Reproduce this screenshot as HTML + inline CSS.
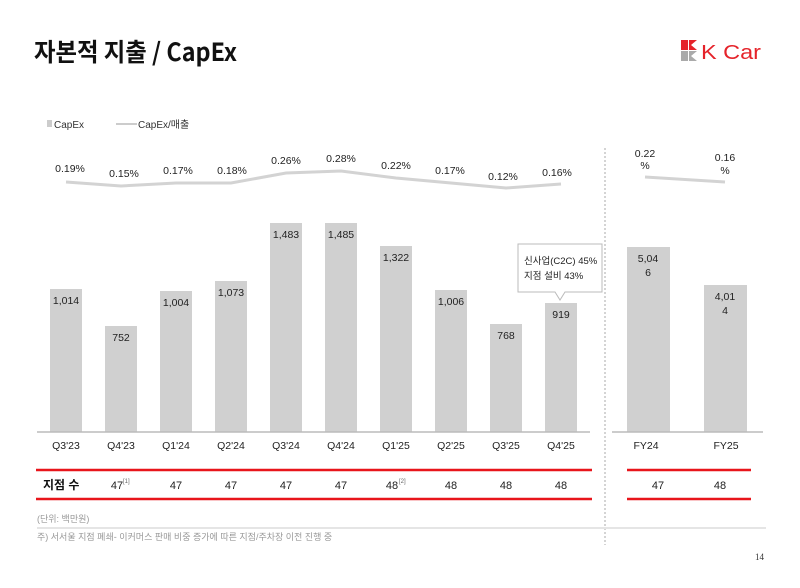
<!DOCTYPE html>
<html><head><meta charset="utf-8"><style>
body{margin:0;background:#fff;}
svg text{font-family:"Liberation Sans","Noto Sans CJK KR",sans-serif;}
</style></head><body>
<svg width="800" height="583" xmlns="http://www.w3.org/2000/svg">
<rect width="800" height="583" fill="#fff"/>
<text x="34" y="61" font-size="25" font-weight="bold" fill="#111" textLength="203" lengthAdjust="spacingAndGlyphs" style="font-family:'Noto Sans CJK KR','Liberation Sans',sans-serif">자본적 지출 / CapEx</text>
<!-- logo -->
<rect x="681" y="40" width="7" height="10" fill="#e5232a"/>
<polygon points="689,40 697,40 691,45 697,50 689,50" fill="#e5232a"/>
<rect x="681" y="51" width="7" height="10" fill="#aaa"/>
<polygon points="689,51 697,51 691,56 697,61 689,61" fill="#aaa"/>
<text x="701" y="59" font-size="20" fill="#e5232a" textLength="60" lengthAdjust="spacingAndGlyphs">K Car</text>
<!-- legend -->
<rect x="47" y="120" width="5" height="7" fill="#ccc"/>
<text x="54" y="128" font-size="10" fill="#333">CapEx</text>
<line x1="116" y1="124" x2="137" y2="124" stroke="#ccc" stroke-width="2"/>
<text x="138" y="128" font-size="10" fill="#333">CapEx/매출</text>
<!-- line -->
<polyline points="66,182 121,186 176,183 231,183 286,173 341,171 396,178 451,183 506,188 561,184" fill="none" stroke="#d3d3d3" stroke-width="3"/>
<polyline points="645,177 725,182" fill="none" stroke="#d3d3d3" stroke-width="3"/>
<g font-size="10.5" fill="#222" text-anchor="middle">
<text x="70" y="172">0.19%</text><text x="124" y="177">0.15%</text><text x="178" y="174">0.17%</text><text x="232" y="174">0.18%</text><text x="286" y="164">0.26%</text><text x="341" y="162">0.28%</text><text x="396" y="169">0.22%</text><text x="450" y="174">0.17%</text><text x="503" y="180">0.12%</text><text x="557" y="176">0.16%</text>
<text x="645" y="157">0.22</text><text x="645" y="169">%</text><text x="725" y="161">0.16</text><text x="725" y="174">%</text>
</g>
<!-- bars -->
<g fill="#d0d0d0">
<rect x="50" y="289" width="32" height="143"/>
<rect x="105" y="326" width="32" height="106"/>
<rect x="160" y="291" width="32" height="141"/>
<rect x="215" y="281" width="32" height="151"/>
<rect x="270" y="223" width="32" height="209"/>
<rect x="325" y="223" width="32" height="209"/>
<rect x="380" y="246" width="32" height="186"/>
<rect x="435" y="290" width="32" height="142"/>
<rect x="490" y="324" width="32" height="108"/>
<rect x="545" y="303" width="32" height="129"/>
<rect x="627" y="247" width="43" height="185"/>
<rect x="704" y="285" width="43" height="147"/>
</g>
<g font-size="10.5" fill="#222" text-anchor="middle">
<text x="66" y="304">1,014</text><text x="121" y="341">752</text><text x="176" y="306">1,004</text><text x="231" y="296">1,073</text><text x="286" y="238">1,483</text><text x="341" y="238">1,485</text><text x="396" y="261">1,322</text><text x="451" y="305">1,006</text><text x="506" y="339">768</text><text x="561" y="318">919</text>
<text x="648" y="262">5,04</text><text x="648" y="276">6</text><text x="725" y="300">4,01</text><text x="725" y="314">4</text>
</g>
<!-- callout -->
<path d="M518,244 H602 V292 H565 L560,300 L555,292 H518 Z" fill="#fff" stroke="#bbb" stroke-width="1"/>
<text x="524" y="264" font-size="9.5" fill="#222">신사업(C2C) 45%</text>
<text x="524" y="279" font-size="9.5" fill="#222">지점 설비 43%</text>
<!-- axes -->
<line x1="37" y1="432" x2="590" y2="432" stroke="#bbb" stroke-width="1.5"/>
<line x1="612" y1="432" x2="763" y2="432" stroke="#bbb" stroke-width="1.5"/>
<line x1="605" y1="148" x2="605" y2="545" stroke="#aaa" stroke-width="1" stroke-dasharray="2,2"/>
<g font-size="10.5" fill="#222" text-anchor="middle">
<text x="66" y="449">Q3'23</text><text x="121" y="449">Q4'23</text><text x="176" y="449">Q1'24</text><text x="231" y="449">Q2'24</text><text x="286" y="449">Q3'24</text><text x="341" y="449">Q4'24</text><text x="396" y="449">Q1'25</text><text x="451" y="449">Q2'25</text><text x="506" y="449">Q3'25</text><text x="561" y="449">Q4'25</text>
<text x="646" y="449">FY24</text><text x="726" y="449">FY25</text>
</g>
<!-- table -->
<g stroke="#e8151b" stroke-width="2.5">
<line x1="36" y1="470" x2="592" y2="470"/><line x1="36" y1="499" x2="592" y2="499"/>
<line x1="627" y1="470" x2="751" y2="470"/><line x1="627" y1="499" x2="751" y2="499"/>
</g>
<text x="43" y="489" font-size="12" font-weight="bold" fill="#111">지점 수</text>
<g font-size="11" fill="#222" text-anchor="middle">
<text x="117" y="489">47</text><text x="176" y="489">47</text><text x="231" y="489">47</text><text x="286" y="489">47</text><text x="341" y="489">47</text><text x="392" y="489">48</text><text x="451" y="489">48</text><text x="506" y="489">48</text><text x="561" y="489">48</text>
<text x="658" y="489">47</text><text x="720" y="489">48</text>
</g>
<text x="123" y="483" font-size="6" fill="#666">[1]</text>
<text x="399" y="483" font-size="6" fill="#666">[2]</text>
<text x="37" y="522" font-size="9" fill="#999">(단위: 백만원)</text>
<line x1="37" y1="528" x2="766" y2="528" stroke="#e5e5e5" stroke-width="2"/>
<text x="37" y="540" font-size="9" fill="#999">주) 서서울 지점 폐쇄- 이커머스 판매 비중 증가에 따른 지점/주차장 이전 진행 중</text>
<text x="755" y="560" font-size="9" fill="#333" style="font-family:'Liberation Serif',serif">14</text>
</svg>
</body></html>
